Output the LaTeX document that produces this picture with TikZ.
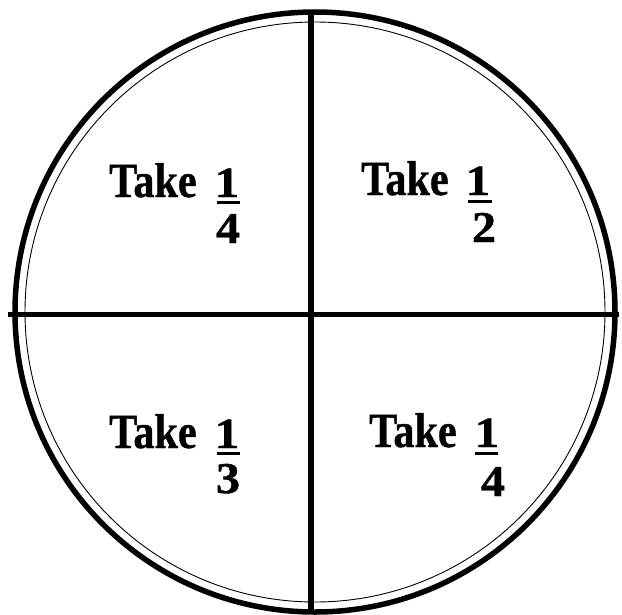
\documentclass[tikz,border=0pt]{standalone}
\usepackage{fontspec}
\setmainfont{Liberation Serif}
\newfontfamily\wordfont[FakeStretch=0.86, FakeBold=0.8]{Liberation Serif Bold}
\newfontfamily\numfont[FakeStretch=1.15, FakeBold=0.8]{Liberation Serif Bold}
\newfontfamily\denfont[FakeStretch=1.1, FakeBold=0.8]{Liberation Serif Bold}
\usetikzlibrary{calc}
\tikzset{
  rim/.style      = {line width=5.5pt},
  innerrim/.style = {line width=0.9pt},
  divider/.style  = {line width=5.5pt},
  word/.style     = {font=\wordfont\fontsize{49}{52}\selectfont,
                     inner sep=0pt, anchor=base west},
  numer/.style    = {font=\numfont\fontsize{43}{46}\selectfont,
                     inner sep=0pt, anchor=base},
  denom/.style    = {font=\denfont\fontsize{44}{47}\selectfont,
                     inner sep=0pt, anchor=base},
  fracbar/.style  = {line width=3pt},
}

\begin{document}
\begin{tikzpicture}[x=1pt,y=-1pt]
\useasboundingbox (0,0) rectangle (622,614);
% ---- plate ----
\coordinate (c) at (315,312);
\draw[rim] (c) circle[radius=300];
\draw[innerrim] (c) circle[radius=290];
% ---- cuts ----
\coordinate (top) at (311,12);
\coordinate (bot) at (311,614);
\coordinate (west) at (8,314.5);
\coordinate (east) at (619,314.5);
\draw[divider] (top) -- (bot);
\draw[divider] (west) -- (east);
% ---- top left ----
\node[word] (tlTake) at (109,197) {Take};
\node[numer] (tlNum) at (227,197) {1};
\node[denom] (tlDen) at (228,243) {4};
\draw[fracbar] ($(tlNum.base)+(-10,5)$) -- ($(tlNum.base)+(13,5)$);
% ---- top right ----
\node[word] (trTake) at (361,195) {Take};
\node[numer] (trNum) at (478,195) {1};
\node[denom] (trDen) at (484,242) {2};
\draw[fracbar] ($(trNum.base)+(-10,6)$) -- ($(trNum.base)+(14,6)$);
% ---- bottom left ----
\node[word] (blTake) at (109,448) {Take};
\node[numer] (blNum) at (227,448) {1};
\node[denom] (blDen) at (228,493) {3};
\draw[fracbar] ($(blNum.base)+(-10,5)$) -- ($(blNum.base)+(13,5)$);
% ---- bottom right ----
\node[word] (brTake) at (369,447) {Take};
\node[numer] (brNum) at (487,447) {1};
\node[denom] (brDen) at (493,496) {4};
\draw[fracbar] ($(brNum.base)+(-12,6)$) -- ($(brNum.base)+(11,6)$);
\end{tikzpicture}
\end{document}
